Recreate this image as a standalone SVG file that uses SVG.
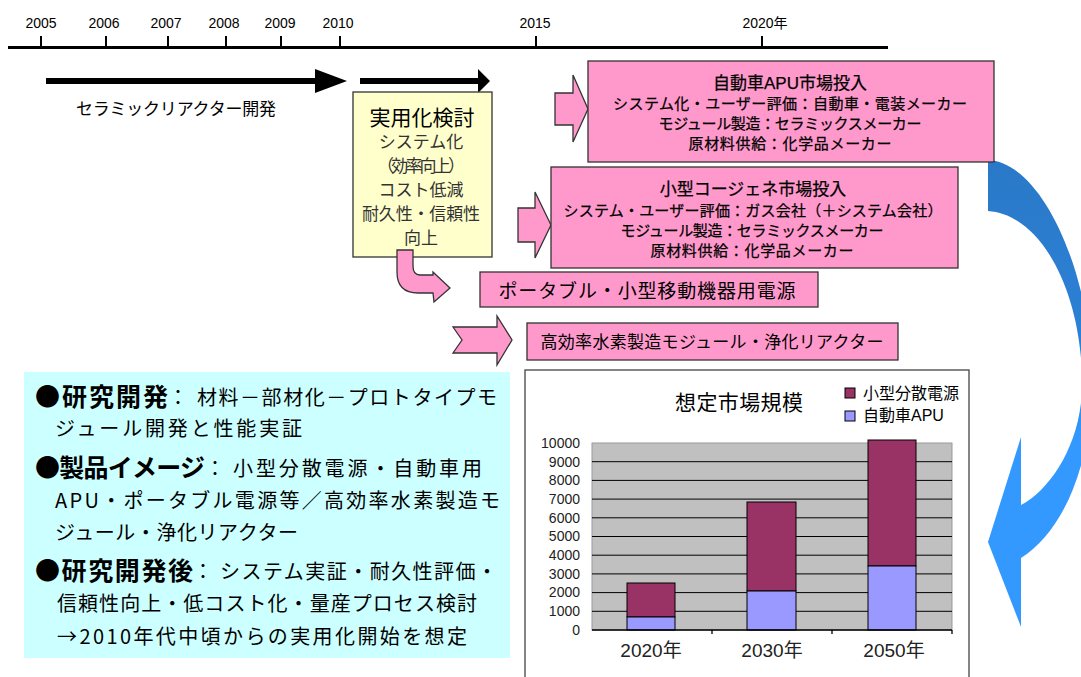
<svg xmlns="http://www.w3.org/2000/svg" width="1081" height="677" viewBox="0 0 1081 677">
<style>
text{font-family:"Liberation Sans","Noto Sans CJK JP",sans-serif;fill:#000}
.yr{font-size:14px;text-anchor:middle}
.pk{fill:#FF99CC;stroke:#333;stroke-width:1.3}
.pt{font-size:15px;text-anchor:middle;stroke:#000;stroke-width:0.25}
.ph{font-size:17px;text-anchor:middle;stroke:#000;stroke-width:0.25}
.cy{font-size:20px;font-family:"Noto Sans CJK JP","Liberation Sans",sans-serif}
.cb{font-size:25px;font-weight:bold;font-family:"Noto Sans CJK JP","Liberation Sans",sans-serif}
.sub{font-size:17px;text-anchor:middle;fill:#333}
.yl{font-size:14px;text-anchor:end;fill:#222}
.xl{font-size:19px;text-anchor:middle;fill:#222}
.grid{stroke:#000;stroke-width:1}
.bar{stroke:#000;stroke-width:1}
</style>
<defs>
<linearGradient id="blue" x1="0" y1="160" x2="0" y2="627" gradientUnits="userSpaceOnUse">
<stop offset="0" stop-color="#2A79C8"/>
<stop offset="0.45" stop-color="#2C82D8"/>
<stop offset="0.6" stop-color="#3399FF"/>
<stop offset="1" stop-color="#3399FF"/>
</linearGradient>
</defs>
<rect width="1081" height="677" fill="#fff"/>

<g id="timeline">
<line x1="8" y1="47.5" x2="888" y2="47.5" stroke="#000" stroke-width="3"/>
<g stroke="#000" stroke-width="2">
<line x1="41" y1="36" x2="41" y2="47"/>
<line x1="106" y1="36" x2="106" y2="47"/>
<line x1="168" y1="36" x2="168" y2="47"/>
<line x1="226" y1="36" x2="226" y2="47"/>
<line x1="281" y1="36" x2="281" y2="47"/>
<line x1="340" y1="36" x2="340" y2="47"/>
<line x1="536" y1="36" x2="536" y2="47"/>
<line x1="762" y1="36" x2="762" y2="47"/>
</g>
<text class="yr" x="41" y="28">2005</text>
<text class="yr" x="104" y="28">2006</text>
<text class="yr" x="166" y="28">2007</text>
<text class="yr" x="224" y="28">2008</text>
<text class="yr" x="280" y="28">2009</text>
<text class="yr" x="338" y="28">2010</text>
<text class="yr" x="535" y="28">2015</text>
<text class="yr" x="765" y="28">2020年</text>
</g>

<g id="connectors">
<path d="M46,78 L315,78 L315,69 L347,81 L315,93 L315,84 L46,84 Z" fill="#000"/>
<path d="M360,78 L478,78 L478,69 L490,81 L478,93 L478,84 L360,84 Z" fill="#000"/>
<path class="pk" d="M555,93 L573,93 L573,75 L588,109 L573,142 L573,125 L555,125 Z"/>
<path class="pk" d="M518,208 L535,208 L535,192 L551,225 L535,258 L535,242 L518,242 Z"/>
<path class="pk" d="M453,327 L497,327 L497,316 L512,340 L497,365 L497,353 L453,353 L462,340 Z"/>
<path d="M988,160 C1040,162 1088,265 1092,370 C1094,460 1065,530 1021,558 L1021,627 L988,542 L1021,437 L1021,505 C1050,490 1080,445 1082,390 C1084,300 1045,215 988,211 Z" fill="url(#blue)"/>
</g>

<g id="label-ceramic">
<text x="76" y="115" font-size="17" textLength="200">セラミックリアクター開発</text>
</g>

<g id="node-jitsuyo">
<rect x="353" y="92" width="139" height="165" fill="#FFFFCC" stroke="#333" stroke-width="1.3"/>
<text x="422" y="125" font-size="21" text-anchor="middle">実用化検討</text>
<text class="sub" x="421" y="148">システム化</text>
<text class="sub" x="421" y="172" textLength="88">（効率向上）</text>
<text class="sub" x="421" y="196">コスト低減</text>
<text class="sub" x="421" y="220" textLength="118">耐久性・信頼性</text>
<text class="sub" x="421" y="244">向上</text>
</g>
<g id="arrow-curved">
<path class="pk" d="M397,250 L397,272 Q397,293 418,293 L433,293 L434,302 L450,288 L433,272 L433,275 L420,275 Q413,275 413,266 L413,250 Z"/>
</g>

<g id="node-apu">
<rect class="pk" x="588" y="61" width="406" height="101"/>
<text class="ph" x="790" y="89">自動車APU市場投入</text>
<text class="pt" x="790" y="109" textLength="354">システム化・ユーザー評価：自動車・電装メーカー</text>
<text class="pt" x="790" y="129" textLength="263">モジュール製造：セラミックスメーカー</text>
<text class="pt" x="790" y="149" textLength="203">原材料供給：化学品メーカー</text>
</g>

<g id="node-cogen">
<rect class="pk" x="551" y="167" width="407" height="101"/>
<text class="ph" x="753" y="195">小型コージェネ市場投入</text>
<text class="pt" x="753" y="216" textLength="379">システム・ユーザー評価：ガス会社（＋システム会社）</text>
<text class="pt" x="752" y="236" textLength="263">モジュール製造：セラミックスメーカー</text>
<text class="pt" x="752" y="256" textLength="203">原材料供給：化学品メーカー</text>
</g>

<g id="node-portable">
<rect class="pk" x="480" y="272" width="338" height="35"/>
<text x="647" y="298" font-size="19" text-anchor="middle" textLength="297">ポータブル・小型移動機器用電源</text>
</g>

<g id="node-hydrogen">
<rect class="pk" x="527" y="323" width="371" height="37"/>
<text x="712" y="348" font-size="17" text-anchor="middle" textLength="343">高効率水素製造モジュール・浄化リアクター</text>
</g>

<g id="node-summary">
<rect x="24" y="372" width="486" height="286" fill="#CCFFFF"/>
<text class="cb" x="35" y="406" textLength="133">●研究開発</text>
<text class="cy" x="168" y="405">：</text>
<text class="cy" x="197" y="405" textLength="300">材料－部材化－プロトタイプモ</text>
<text class="cy" x="55" y="436" textLength="247">ジュール開発と性能実証</text>
<text class="cb" x="35" y="477" textLength="170">●製品イメージ</text>
<text class="cy" x="205" y="476">：</text>
<text class="cy" x="233" y="476" textLength="249">小型分散電源・自動車用</text>
<text class="cy" x="55" y="508" textLength="445">APU・ポータブル電源等／高効率水素製造モ</text>
<text class="cy" x="55" y="540" textLength="243">ジュール・浄化リアクター</text>
<text class="cb" x="35" y="580" textLength="158">●研究開発後</text>
<text class="cy" x="193" y="579">：</text>
<text class="cy" x="220" y="579" textLength="277">システム実証・耐久性評価・</text>
<text class="cy" x="57" y="611" textLength="420">信頼性向上・低コスト化・量産プロセス検討</text>
<text class="cy" x="57" y="644" textLength="410">→2010年代中頃からの実用化開始を想定</text>
</g>

<g id="node-chart">
<rect x="525" y="370" width="444" height="312" fill="#fff" stroke="#444" stroke-width="1.3"/>
<text x="739" y="410" font-size="21" text-anchor="middle" fill="#333" textLength="128">想定市場規模</text>
<rect x="845" y="388" width="10" height="10" fill="#993366" stroke="#000" stroke-width="1"/>
<text x="863" y="399" font-size="16" fill="#222">小型分散電源</text>
<rect x="845" y="411" width="10" height="10" fill="#9999FF" stroke="#000" stroke-width="1"/>
<text x="863" y="421" font-size="16" fill="#222">自動車APU</text>
<rect x="592" y="443" width="360" height="187" fill="#C0C0C0" stroke="#999" stroke-width="1"/>
<g class="grid">
<line x1="592" y1="611.3" x2="952" y2="611.3"/>
<line x1="592" y1="592.6" x2="952" y2="592.6"/>
<line x1="592" y1="573.9" x2="952" y2="573.9"/>
<line x1="592" y1="555.2" x2="952" y2="555.2"/>
<line x1="592" y1="536.5" x2="952" y2="536.5"/>
<line x1="592" y1="517.8" x2="952" y2="517.8"/>
<line x1="592" y1="499.1" x2="952" y2="499.1"/>
<line x1="592" y1="480.4" x2="952" y2="480.4"/>
<line x1="592" y1="461.7" x2="952" y2="461.7"/>
</g>
<g class="bar">
<rect x="627" y="583" width="48" height="34" fill="#993366"/>
<rect x="627" y="617" width="48" height="13" fill="#9999FF"/>
<rect x="747" y="502" width="49" height="89" fill="#993366"/>
<rect x="747" y="591" width="49" height="39" fill="#9999FF"/>
<rect x="868" y="440" width="48" height="126" fill="#993366"/>
<rect x="868" y="566" width="48" height="64" fill="#9999FF"/>
</g>
<g stroke="#000" stroke-width="1.3">
<line x1="592" y1="630" x2="952" y2="630"/>
<line x1="712" y1="630" x2="712" y2="634"/>
<line x1="832" y1="630" x2="832" y2="634"/>
<line x1="952" y1="630" x2="952" y2="634"/>
</g>
<text class="yl" x="580" y="448">10000</text>
<text class="yl" x="580" y="467">9000</text>
<text class="yl" x="580" y="485">8000</text>
<text class="yl" x="580" y="504">7000</text>
<text class="yl" x="580" y="523">6000</text>
<text class="yl" x="580" y="541">5000</text>
<text class="yl" x="580" y="560">4000</text>
<text class="yl" x="580" y="579">3000</text>
<text class="yl" x="580" y="597">2000</text>
<text class="yl" x="580" y="616">1000</text>
<text class="yl" x="580" y="635">0</text>
<text class="xl" x="651" y="657">2020年</text>
<text class="xl" x="772" y="657">2030年</text>
<text class="xl" x="894" y="657">2050年</text>
</g>
</svg>
